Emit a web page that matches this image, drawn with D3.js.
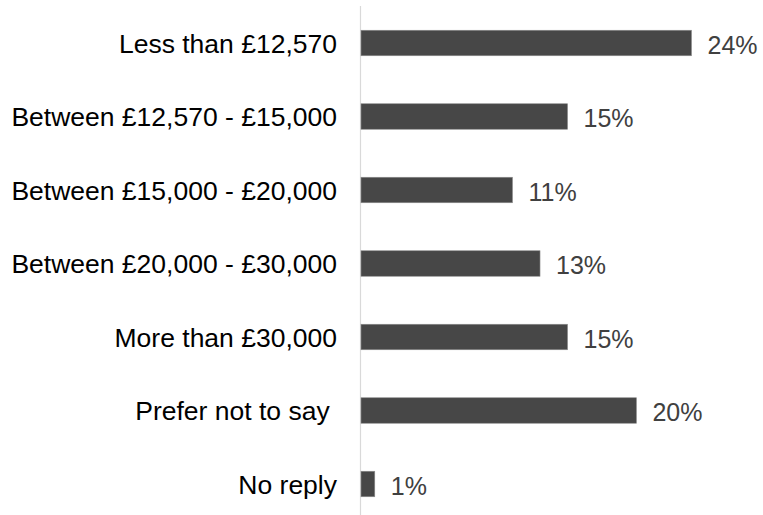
<!DOCTYPE html>
<html>
<head>
<meta charset="utf-8">
<script src="https://cdn.jsdelivr.net/npm/d3@7"></script>
<style>
  body { margin: 0; background: #fff; }
  svg text { font-family: "Liberation Sans", Arial, sans-serif; }
</style>
</head>
<body>
<div id="chart"></div>
<script>
var w = 763;
var h = 515;

// income bands and share of replies (%)
var categories = ["Less than £12,570", "Between £12,570 - £15,000", "Between £15,000 - £20,000",
                  "Between £20,000 - £30,000", "More than £30,000", "Prefer not to say ", "No reply"];
var values = [24, 15, 11, 13, 15, 20, 1];
var valueLabels = ["24%", "15%", "11%", "13%", "15%", "20%", "1%"];

var svg = d3.select("#chart")
            .append("svg")
            .attr("width", w)
            .attr("height", h);

var x = d3.scaleLinear()
          .domain([0, 24])
          .range([361, 691.5]);

var y = d3.scaleBand()
          .domain(categories)
          .range([6.25, 520.75])
          .paddingInner(0.653)
          .paddingOuter(0.3265);

// axis line
svg.append("line")
   .attr("x1", 360.5).attr("x2", 360.5)
   .attr("y1", 6).attr("y2", h)
   .attr("stroke", "#d9d9d9")
   .attr("stroke-width", 1.2);

svg.selectAll("rect.bar")
   .data(values)
   .enter()
   .append("rect")
   .attr("class", "bar")
   .attr("x", x(0))
   .attr("y", function (d, i) { return y(categories[i]); })
   .attr("width", function (d) { return x(d) - x(0); })
   .attr("height", y.bandwidth())
   .attr("fill", "#474747")
   .attr("stroke", "#8c8c8c")
   .attr("stroke-width", 0.6);

// category labels
svg.selectAll("text.cat")
   .data(categories)
   .enter()
   .append("text")
   .attr("class", "cat")
   .attr("x", 337)
   .attr("y", function (d) { return y(d) + y.bandwidth() / 2; })
   .attr("dy", "0.36em")
   .attr("text-anchor", "end")
   .style("white-space", "pre")
   .attr("font-size", 26.5)
   .attr("fill", "#000")
   .text(function (d) { return d; });

// value labels, sit a little below the bar centre
svg.selectAll("text.val")
   .data(values)
   .enter()
   .append("text")
   .attr("class", "val")
   .attr("x", function (d) { return x(d) + 16; })
   .attr("y", function (d, i) { return y(categories[i]) + y.bandwidth() / 2; })
   .attr("dy", "0.42em")
   .attr("font-size", 25)
   .attr("fill", "#404040")
   .text(function (d, i) { return valueLabels[i]; });
</script>
</body>
</html>
